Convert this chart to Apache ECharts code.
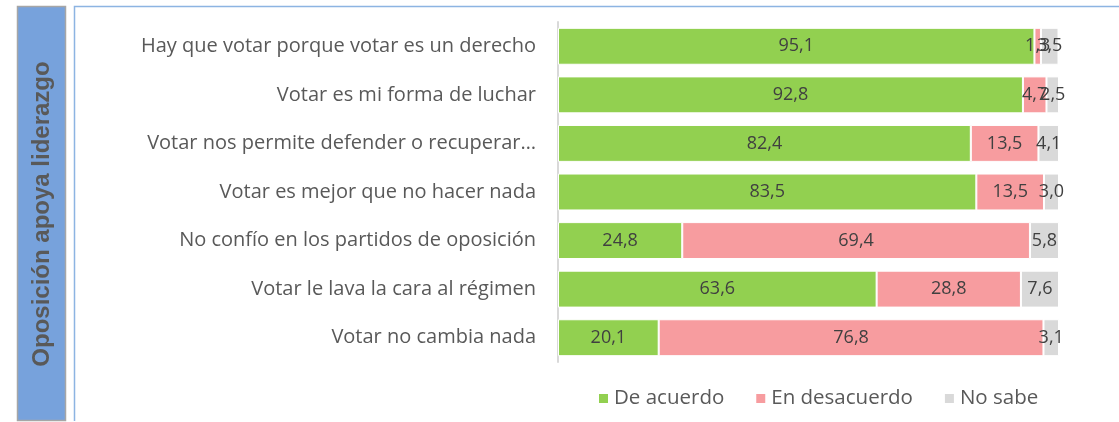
<!DOCTYPE html>
<html>
<head>
<meta charset="utf-8">
<script src="https://cdn.jsdelivr.net/npm/echarts@6/dist/echarts.min.js"></script>
<style>
  html, body { margin: 0; padding: 0; background: #fff; }
  #chart { width: 1119px; height: 422px; }
</style>
</head>
<body>
<div id="chart"></div>
<script>
// Survey statements (top to bottom) and the share of answers per option, in %
const categories = [
  'Hay que votar porque votar es un derecho',
  'Votar es mi forma de luchar',
  'Votar nos permite defender o recuperar…',
  'Votar es mejor que no hacer nada',
  'No confío en los partidos de oposición',
  'Votar le lava la cara al régimen',
  'Votar no cambia nada'
];
const deAcuerdo = [95.1, 92.8, 82.4, 83.5, 24.8, 63.6, 20.1];
const enDesacuerdo = [1.3, 4.7, 13.5, 13.5, 69.4, 28.8, 76.8];
const noSabe = [3.5, 2.5, 4.1, 3.0, 5.8, 7.6, 3.1];
const seriesNames = ['De acuerdo', 'En desacuerdo', 'No sabe'];
const panelTitle = 'Oposición apoya liderazgo';

const colors = ['#92D050', '#F79C9F', '#D9D9D9'];
const fmt = v => v.toFixed(1).replace('.', ',');

const chart = echarts.init(document.getElementById('chart'));

function makeSeries(name, data, color) {
  return {
    name: name,
    type: 'bar',
    stack: 'total',
    data: data,
    barCategoryGap: '24%',
    itemStyle: { color: color, borderColor: '#ffffff', borderWidth: 1 },
    label: {
      show: true,
      position: 'inside',
      color: '#404040',
      fontFamily: 'Open Sans',
      fontSize: 18,
      formatter: p => fmt(p.value)
    },
    emphasis: { disabled: true }
  };
}

chart.setOption({
  animation: false,
  graphic: [
    {
      type: 'rect',
      shape: { x: 17.5, y: 6.5, width: 48, height: 414 },
      style: { fill: '#77A2DC', stroke: '#A6A6A6', lineWidth: 1.5 },
      z: 0
    },
    {
      type: 'text',
      x: 42,
      y: 214,
      rotation: Math.PI / 2,
      style: {
        text: panelTitle,
        fill: '#595959',
        font: 'bold 24px "Liberation Sans", Arial, sans-serif',
        align: 'center',
        verticalAlign: 'middle'
      },
      z: 1
    },
    {
      type: 'polyline',
      shape: { points: [[74.5, 421], [74.5, 6.5], [1119, 6.5]] },
      style: { stroke: '#8DB4E2', lineWidth: 1.5, fill: null },
      z: 0
    }
  ],
  legend: {
    data: seriesNames,
    bottom: 8,
    left: 592,
    itemWidth: 11,
    itemHeight: 11,
    itemGap: 30,
    icon: 'rect',
    textStyle: { color: '#595959', fontSize: 20.5, fontFamily: 'Open Sans' }
  },
  grid: { left: 558, right: 60, top: 22, bottom: 60, containLabel: false },
  xAxis: {
    type: 'value',
    min: 0,
    max: 100,
    show: false
  },
  yAxis: {
    type: 'category',
    data: categories,
    inverse: true,
    axisLine: { show: true, lineStyle: { color: '#D9D9D9', width: 2 } },
    axisTick: { show: false },
    axisLabel: {
      color: '#595959',
      fontSize: 20,
      fontFamily: 'Open Sans',
      margin: 22
    }
  },
  series: [
    makeSeries(seriesNames[0], deAcuerdo, colors[0]),
    makeSeries(seriesNames[1], enDesacuerdo, colors[1]),
    makeSeries(seriesNames[2], noSabe, colors[2])
  ]
});
</script>
</body>
</html>
